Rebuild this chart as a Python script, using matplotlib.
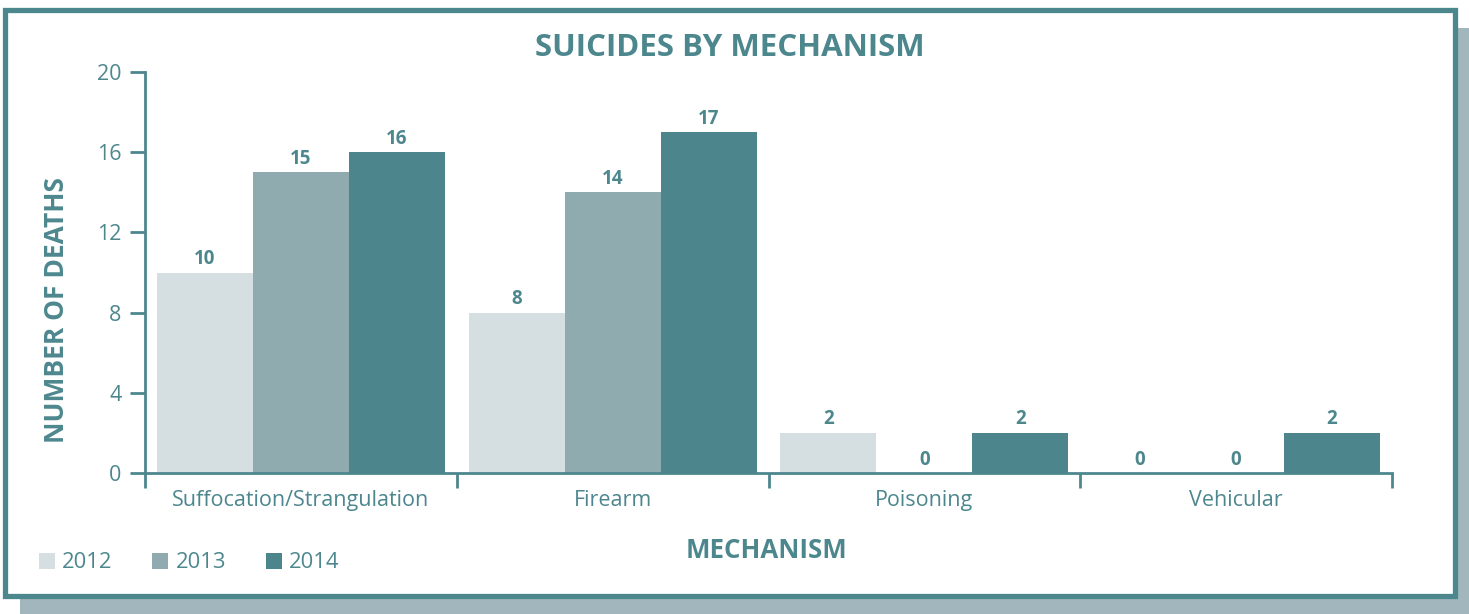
import matplotlib
matplotlib.use("Agg")
import matplotlib.pyplot as plt
from matplotlib.patches import Rectangle
import numpy as np

plt.rcParams['font.family'] = ['Open Sans', 'DejaVu Sans']

categories = ["Suffocation/Strangulation", "Firearm", "Poisoning", "Vehicular"]
years = ["2012", "2013", "2014"]
deaths_2012 = [10, 8, 2, 0]
deaths_2013 = [15, 14, 0, 0]
deaths_2014 = [16, 17, 2, 2]
yticks = [0, 4, 8, 12, 16, 20]

series = [deaths_2012, deaths_2013, deaths_2014]
colors = ["#d5dee0", "#8fabb0", "#4c858c"]
teal = "#4d878e"

W, H = 1469, 614
fig = plt.figure(figsize=(W / 100, H / 100), dpi=100)

def fx(px):
    return px / W

def fy(py):
    return 1 - py / H

# shadow and frame
fig.patches.append(Rectangle((fx(20), fy(614)), fx(1469) - fx(20), fy(28) - fy(614),
                             transform=fig.transFigure, facecolor="#a2b7bd", edgecolor="none", zorder=0))
fig.patches.append(Rectangle((fx(4.5), fy(596)), fx(1455.2) - fx(4.5), fy(10) - fy(596),
                             transform=fig.transFigure, facecolor="white", edgecolor="#4d878e",
                             linewidth=3.8, zorder=1))

ax = fig.add_axes([fx(145), fy(473), fx(1392) - fx(145), fy(72) - fy(473)])
ax.set_zorder(2)
ax.patch.set_alpha(0)

x = np.arange(len(categories))
bw = 0.308
for i, (vals, col, yr) in enumerate(zip(series, colors, years)):
    pos = x + (i - 1) * bw
    ax.bar(pos, vals, width=bw, color=col, label=yr, zorder=2)
    for p, v in zip(pos, vals):
        ax.annotate(str(v), (p, v), xytext=(0, 2.5), textcoords="offset points",
                    ha="center", va="bottom", fontsize=13.5, fontweight="bold", color=teal)

ax.set_xlim(-0.5, len(categories) - 0.5)
ax.set_ylim(0, 20)
for s in ["top", "right"]:
    ax.spines[s].set_visible(False)
for s in ["left", "bottom"]:
    ax.spines[s].set_color(teal)
    ax.spines[s].set_linewidth(2.0)
    ax.spines[s].set_zorder(3)

ax.set_yticks(yticks)
ax.tick_params(axis="y", length=11, width=2.0, color=teal, labelcolor=teal, labelsize=15.5, pad=6)
ax.set_xticks(np.arange(-0.5, len(categories), 1.0))
ax.set_xticklabels([])
ax.tick_params(axis="x", which="major", length=11, width=2.0, color=teal)
ax.set_xticks(x, minor=True)
ax.set_xticklabels(categories, minor=True)
ax.tick_params(axis="x", which="minor", length=0, labelcolor=teal, labelsize=15.5, pad=12.5)

fig.text(fx(730), fy(48), "SUICIDES BY MECHANISM", ha="center", va="center",
         fontsize=22.5, fontweight="bold", color=teal)
fig.text(fx(57), fy(310), "NUMBER OF DEATHS", ha="center", va="center", rotation=90,
         fontsize=19, fontweight="bold", color=teal)
fig.text(fx(767), fy(551), "MECHANISM", ha="center", va="center",
         fontsize=18.6, fontweight="bold", color=teal)

handles, labels = ax.get_legend_handles_labels()
leg = fig.legend(handles, labels, loc="center left", bbox_to_anchor=(fx(39), fy(563)),
                 ncol=3, frameon=False, fontsize=15.8, borderpad=0, borderaxespad=0,
                 handlelength=0.73, handleheight=0.73, handletextpad=0.33, columnspacing=1.8)
for t in leg.get_texts():
    t.set_color(teal)
leg.set_zorder(3)

fig.savefig("out.png", dpi=100)
